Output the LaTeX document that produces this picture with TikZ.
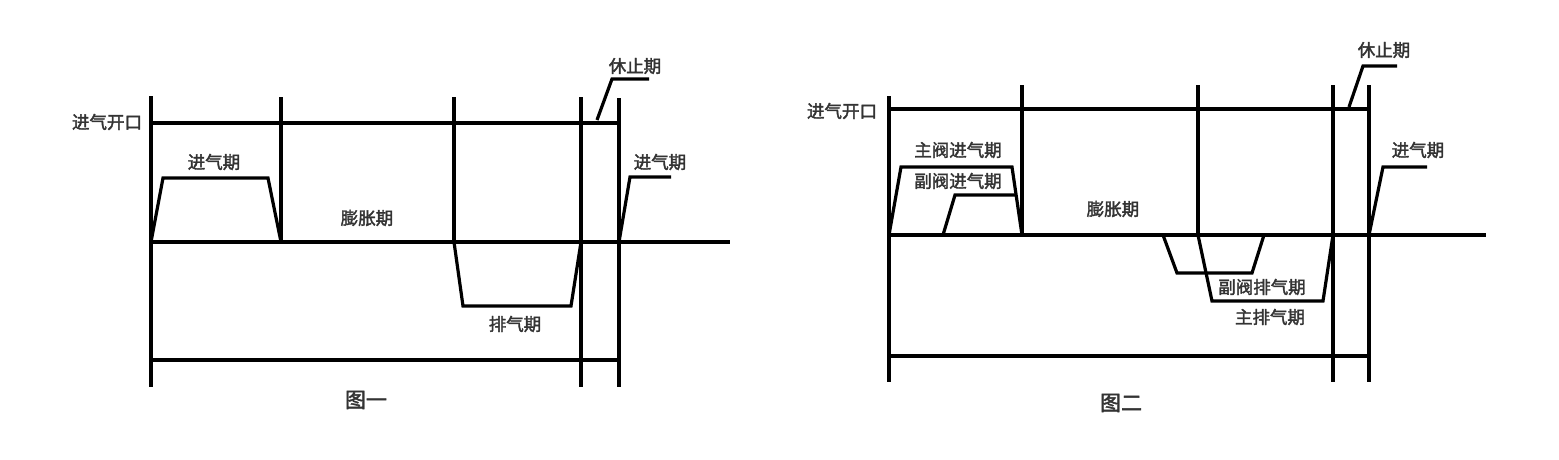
\documentclass[tikz,border=0pt]{standalone}
\usepackage{fontspec}
\newfontfamily\cjk{Noto Sans CJK SC}[FakeBold=2]
\usepackage{tikz}

\tikzset{
  wave/.style={line width=3.2pt, line join=miter},
  lbl/.style={font=\cjk\fontsize{17.5}{19}\selectfont, text=black!80, inner sep=1pt},
  figcap/.style={font=\cjk\fontsize{21}{23}\selectfont, text=black!80, inner sep=1pt},
}

\begin{document}
\begin{tikzpicture}[x=1pt, y=-1pt, wave]
\useasboundingbox (0,0) rectangle (1559,459);

%% ─── Figure 1: frame ────────────────────────────────────────
\draw (151,96) -- (151,387);
\draw (151,123) -- (619,123);
\draw (151,242) -- (730,242);
\draw (151,360) -- (619,360);
\draw (281,97) -- (281,242);
\draw (454,97) -- (454,242);
\draw (581,97) -- (581,387);
\draw (619,98) -- (619,387);

%% Intake and exhaust
\draw (151,242) -- (163,178) -- (268,178) -- (281,242);
\draw (454,242) -- (463,306) -- (571,306) -- (581,242);

%% Leaders
\draw (597,120) -- (612,79) -- (649,79);
\draw (619,242) -- (630,177) -- (671,177);

%% Labels
\node[lbl] (openA) at (107,122) {进气开口};
\node[lbl] (inA) at (214,162) {进气期};
\node[lbl] (expA) at (367,218) {膨胀期};
\node[lbl] (outA) at (515,324) {排气期};
\node[lbl] (restA) at (635,66) {休止期};
\node[lbl] (nextA) at (660,162) {进气期};
\node[figcap] (figA) at (366,400) {图一};

%% ─── Figure 2: frame ────────────────────────────────────────
\draw (889,96) -- (889,382);
\draw (889,109) -- (1369,109);
\draw (889,235) -- (1486,235);
\draw (889,356) -- (1369,356);
\draw (1022,85) -- (1022,235);
\draw (1198,85) -- (1198,235);
\draw (1333,85) -- (1333,382);
\draw (1369,85) -- (1369,382);

%% Main and secondary intake
\draw (889,235) -- (901,167) -- (1012,167) -- (1022,235);
\draw (943,235) -- (955,195) -- (1016,195);

%% Secondary and main exhaust
\draw (1163,235) -- (1177,273) -- (1252,273) -- (1264,235);
\draw (1198,235) -- (1212,301) -- (1323,301) -- (1333,235);

%% Leaders
\draw (1349,107) -- (1363,66) -- (1397,66);
\draw (1369,235) -- (1383,167) -- (1427,167);

%% Labels
\node[lbl] (openB) at (842,111) {进气开口};
\node[lbl] (mainInB) at (958,150) {主阀进气期};
\node[lbl] (subInB) at (958,181) {副阀进气期};
\node[lbl] (expB) at (1113,209) {膨胀期};
\node[lbl] (subOutB) at (1262,287) {副阀排气期};
\node[lbl] (mainOutB) at (1270,317) {主排气期};
\node[lbl] (restB) at (1384,50) {休止期};
\node[lbl] (nextB) at (1418,150) {进气期};
\node[figcap] (figB) at (1121,403) {图二};

\end{tikzpicture}
\end{document}
